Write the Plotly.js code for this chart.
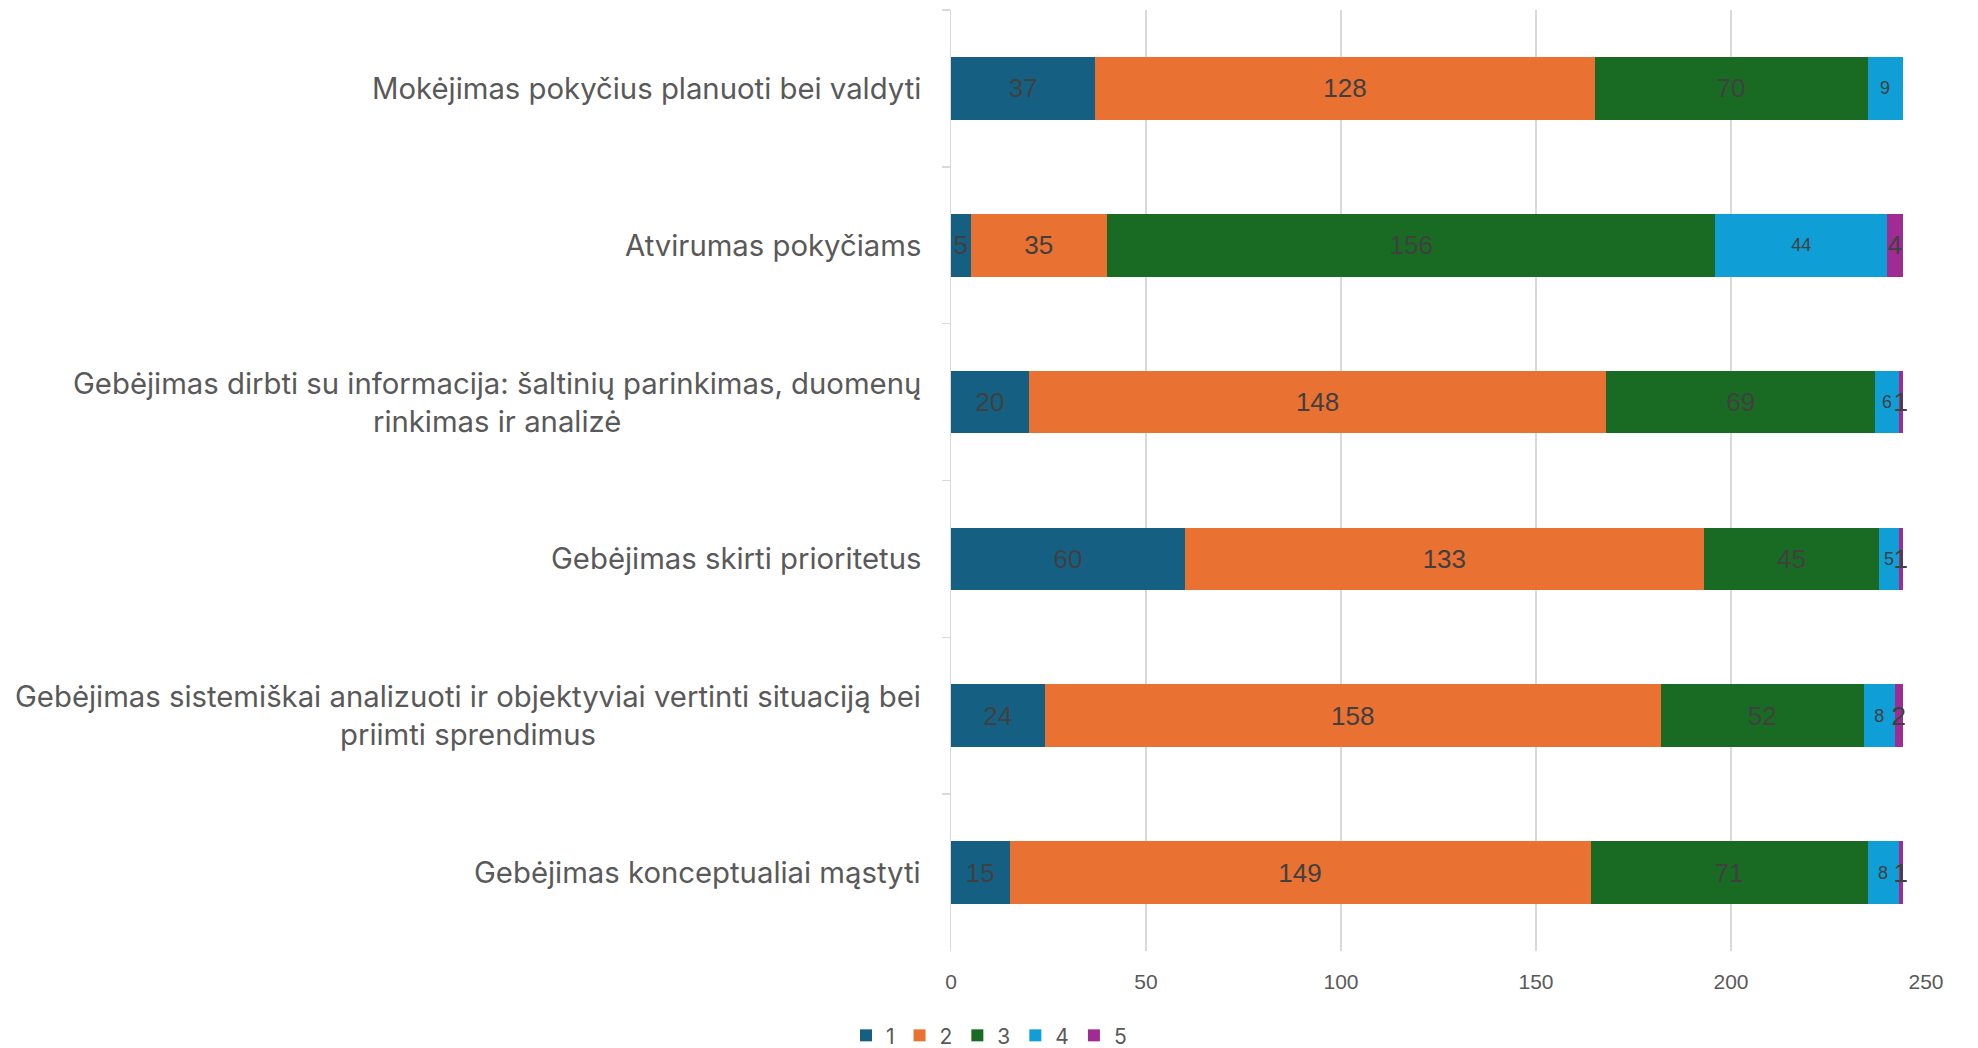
<!DOCTYPE html>
<html>
<head>
<meta charset="utf-8">
<script src="https://cdn.plot.ly/plotly-3.0.1.min.js"></script>
<style>html,body{margin:0;padding:0;background:#fff;}#chart{width:1978px;height:1048px;}</style>
</head>
<body>
<div id="chart"></div>
<script>
const categories = [
  "Mokėjimas pokyčius planuoti bei valdyti",
  "Atvirumas pokyčiams",
  "Gebėjimas dirbti su informacija: šaltinių parinkimas, duomenų<br>rinkimas ir analizė",
  "Gebėjimas skirti prioritetus",
  "Gebėjimas sistemiškai analizuoti ir objektyviai vertinti situaciją bei<br>priimti sprendimus",
  "Gebėjimas konceptualiai mąstyti"
];
const seriesNames = ["1", "2", "3", "4", "5"];
const s1 = [37, 5, 20, 60, 24, 15];
const s2 = [128, 35, 148, 133, 158, 149];
const s3 = [70, 156, 69, 45, 52, 71];
const s4 = [9, 44, 6, 5, 8, 8];
const s5 = [0, 4, 1, 1, 2, 1];
const xTicks = [0, 50, 100, 150, 200, 250];

const colors = ["#156082", "#E97132", "#196B24", "#0F9ED5", "#A02B93"];
const textSizes = [26, 26, 26, 18, 26];
const allSeries = [s1, s2, s3, s4, s5];
const keys = categories.map(c => c.replace("<br>", " "));

const traces = allSeries.map((vals, i) => ({
  type: "bar",
  orientation: "h",
  name: seriesNames[i],
  y: keys,
  x: vals,
  marker: {color: colors[i], line: {width: 0}},
  text: vals.map(v => v > 0 ? String(v) : ""),
  textposition: "inside",
  insidetextanchor: "middle",
  constraintext: "none",
  textangle: 0,
  textfont: {family: "Liberation Sans Narrow, Liberation Sans, Arial", size: textSizes[i], color: "#404040"},
  hoverinfo: "x+y+name"
}));

const annotations = categories.map((c, i) => ({
  xref: "paper", yref: "y",
  x: 0, y: keys[i],
  xanchor: "right", yanchor: "middle",
  xshift: -28,
  text: c,
  align: "center",
  showarrow: false,
  font: {family: "Inter, Open Sans, sans-serif", size: 29.3, color: "#595959"}
}));

const layout = {
  width: 1978, height: 1048,
  barmode: "stack",
  bargap: 0.6,
  paper_bgcolor: "#ffffff",
  plot_bgcolor: "#ffffff",
  margin: {l: 951, r: 52, t: 10, b: 97, autoexpand: false},
  font: {family: "Inter, Open Sans, sans-serif", color: "#595959"},
  xaxis: {
    range: [0, 250],
    tickvals: xTicks,
    ticktext: xTicks.map(String),
    showgrid: true,
    gridcolor: "#d9d9d9",
    gridwidth: 1.5,
    zeroline: false,
    showline: false,
    ticks: "",
    tickfont: {family: "Liberation Sans Narrow, Liberation Sans, Arial", size: 21, color: "#595959"},
    ticklabelstandoff: 16
  },
  yaxis: {
    type: "category",
    autorange: "reversed",
    showticklabels: false,
    showgrid: false,
    zeroline: false,
    showline: true,
    linecolor: "#d9d9d9",
    linewidth: 1.5,
    ticks: "outside",
    tickson: "boundaries",
    ticklen: 8,
    tickcolor: "#d9d9d9",
    tickwidth: 1.5
  },
  legend: {
    orientation: "h",
    xref: "container", yref: "paper",
    x: 0.5, xanchor: "center",
    y: -0.09, yanchor: "middle",
    font: {family: "Inter, Open Sans, sans-serif", size: 21, color: "#595959"},
    itemwidth: 30,
    traceorder: "normal"
  },
  annotations: annotations,
  showlegend: true
};

Plotly.newPlot("chart", traces, layout, {displayModeBar: false, staticPlot: true});
</script>
</body>
</html>
